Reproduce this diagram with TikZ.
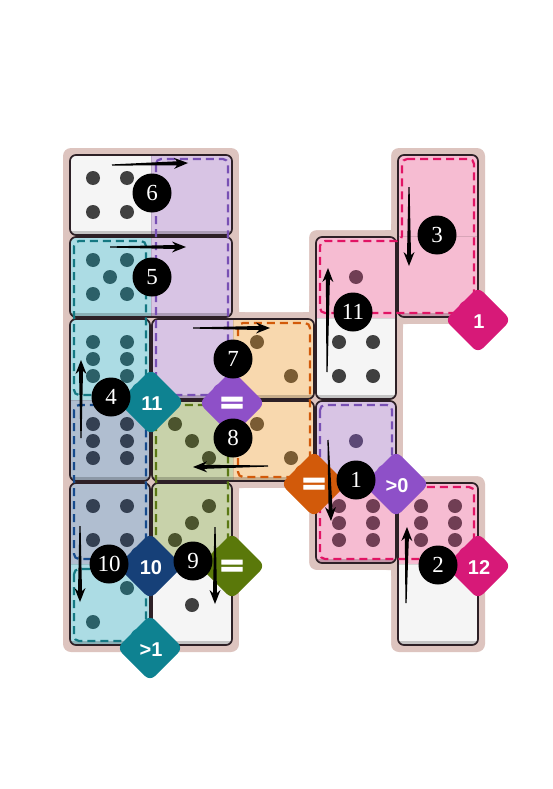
\documentclass[tikz,border=0pt]{standalone}
\usepackage{fontspec}
\setmainfont{Liberation Serif}
\newfontfamily\labfont{Liberation Sans}
\newfontfamily\eqfont[FakeBold=3.5]{DejaVu Sans}
\usetikzlibrary{calc}
\definecolor{boardbg}{RGB}{221,196,191}
\definecolor{domborder}{RGB}{45,32,38}
\definecolor{cwhite}{RGB}{245,245,245}
\definecolor{purfill}{RGB}{216,196,228}
\definecolor{purdash}{RGB}{120,80,180}
\definecolor{purlab}{RGB}{142,80,200}
\definecolor{purpip}{RGB}{92,72,118}
\definecolor{cyafill}{RGB}{172,220,228}
\definecolor{cyadash}{RGB}{20,120,130}
\definecolor{cyalab}{RGB}{14,130,145}
\definecolor{cyapip}{RGB}{44,96,104}
\definecolor{blufill}{RGB}{176,190,208}
\definecolor{bludash}{RGB}{22,74,140}
\definecolor{blulab}{RGB}{22,64,120}
\definecolor{blupip}{RGB}{52,64,82}
\definecolor{grefill}{RGB}{200,210,170}
\definecolor{gredash}{RGB}{90,120,20}
\definecolor{grelab}{RGB}{90,120,10}
\definecolor{grepip}{RGB}{76,84,46}
\definecolor{orafill}{RGB}{248,216,174}
\definecolor{oradash}{RGB}{210,90,10}
\definecolor{oralab}{RGB}{210,90,10}
\definecolor{orapip}{RGB}{122,92,52}
\definecolor{pinfill}{RGB}{246,188,210}
\definecolor{pindash}{RGB}{225,20,100}
\definecolor{pinlab}{RGB}{215,25,120}
\definecolor{pinpip}{RGB}{112,62,84}
\definecolor{whipip}{RGB}{64,64,64}

% domino: c1 r1 c2 r2 colA colB orient(0=v,1=h)
\newcommand\domino[7]{%
 \pgfmathsetmacro\xa{70+82*#1}\pgfmathsetmacro\ya{155+82*#2}%
 \pgfmathsetmacro\xb{150+82*#3}\pgfmathsetmacro\yb{235+82*#4}%
 \pgfmathsetmacro\xm{151+82*#1}\pgfmathsetmacro\ym{236+82*#2}%
 \pgfmathsetmacro\xn{69+82*#3}\pgfmathsetmacro\yn{154+82*#4}%
 \begin{scope}
  \clip[rounded corners=6pt] (\xa,\ya) rectangle (\xb,\yb);
  \fill[#5] (\xa,\ya) rectangle (\xm,\ym);
  \fill[#6] (\xn,\yn) rectangle (\xb,\yb);
  \fill[black,opacity=.2] (\xa,{\yb-4}) rectangle (\xb,\yb);
  \ifnum#7=1 \draw[seam] (\xm,\ya) -- (\xm,\yb);\else\draw[seam] (\xa,\ym) -- (\xb,\ym);\fi
 \end{scope}
 \draw[domborder,line width=1.7pt,rounded corners=6pt] (\xa,\ya) rectangle (\xb,\yb);
}
\newcommand\pipat[2]{\fill[fill=\pipcol] ({\cx+(#1)},{\cy+(#2)}) circle[radius=7pt];}
% pips: c r n orient colour
\newcommand\pips[5]{%
 \pgfmathsetmacro\cx{110+82*#1}\pgfmathsetmacro\cy{195+82*#2}\def\pipcol{#5}%
 \ifcase#3\relax
 \or \pipat{0}{0}%
 \or \ifnum#4=0 \pipat{17}{-17}\pipat{-17}{17}\else\pipat{-17}{-17}\pipat{17}{17}\fi
 \or \ifnum#4=0 \pipat{17}{-17}\pipat{0}{0}\pipat{-17}{17}\else\pipat{-17}{-17}\pipat{0}{0}\pipat{17}{17}\fi
 \or \pipat{-17}{-17}\pipat{17}{-17}\pipat{-17}{17}\pipat{17}{17}%
 \or \pipat{-17}{-17}\pipat{17}{-17}\pipat{0}{0}\pipat{-17}{17}\pipat{17}{17}%
 \or \pipat{-17}{-17}\pipat{17}{-17}\pipat{-17}{0}\pipat{17}{0}\pipat{-17}{17}\pipat{17}{17}%
 \fi}
% constraint diamond shape: cx cy colour
\newcommand\cdiamond[3]{%
 \fill[#3] ({#1-12},{#2-12}) circle[radius=7pt];
 \fill[#3,rounded corners=7pt] (#1,{#2-33}) -- ({#1+33},#2) -- (#1,{#2+33}) -- ({#1-33},#2) -- cycle;}
% move arrow from tail coordinate to tip coordinate
\newcommand\mvarrow[2]{%
 \fill[black] ($(#1)!0.6pt!90:(#2)$) -- ($(#2)!11pt!(#1)!2pt!90:(#2)$) -- ($(#2)!14pt!(#1)!5.5pt!90:(#2)$) -- (#2)
  -- ($(#2)!14pt!(#1)!5.5pt!-90:(#2)$) -- ($(#2)!11pt!(#1)!2pt!-90:(#2)$) -- ($(#1)!0.6pt!-90:(#2)$) -- cycle;}

\begin{document}
\begin{tikzpicture}[x=1pt,y=-1pt,
 seam/.style={black,opacity=.12,line width=.8pt},
 region/.style={dash pattern=on 8pt off 5pt,line width=2.2pt,rounded corners=5pt},
 badge/.style={circle,fill=black,minimum size=39pt,inner sep=0pt,text=white,font=\fontsize{23}{23}\selectfont},
 lab/.style={text=white,inner sep=0pt,font=\labfont\bfseries\fontsize{20}{20}\selectfont},
 eqlab/.style={text=white,inner sep=0pt,font=\eqfont\bfseries\fontsize{32}{32}\selectfont}]
\useasboundingbox (0,0) rectangle (552,789);
\fill[white] (0,0) rectangle (552,789);
% board background
\fill[boardbg,rounded corners=8pt] (63,148) rectangle (239,652);
\fill[boardbg,rounded corners=8pt] (227,312) rectangle (321,488);
\fill[boardbg,rounded corners=8pt] (309,230) rectangle (403,570);
\fill[boardbg,rounded corners=8pt] (391,148) rectangle (485,324);
\fill[boardbg,rounded corners=8pt] (391,476) rectangle (485,652);
% empty areas
\fill[white,rounded corners=6pt] (239,100) -- (391,100) -- (391,230) -- (309,230) -- (309,312) -- (239,312) -- cycle;
\fill[white,rounded corners=6pt] (403,324) rectangle (600,476);
\fill[white,rounded corners=6pt] (239,488) -- (309,488) -- (309,570) -- (391,570) -- (391,720) -- (239,720) -- cycle;
% dominoes
\domino{3}{3}{3}{4}{purfill}{pinfill}{0}
\domino{4}{4}{4}{5}{pinfill}{cwhite}{0}
\domino{4}{0}{4}{1}{pinfill}{pinfill}{0}
\domino{0}{2}{0}{3}{cyafill}{blufill}{0}
\domino{0}{1}{1}{1}{cyafill}{purfill}{1}
\domino{0}{0}{1}{0}{cwhite}{purfill}{1}
\domino{1}{2}{2}{2}{purfill}{orafill}{1}
\domino{1}{3}{2}{3}{grefill}{orafill}{1}
\domino{1}{4}{1}{5}{grefill}{cwhite}{0}
\domino{0}{4}{0}{5}{blufill}{cyafill}{0}
\domino{3}{1}{3}{2}{pinfill}{cwhite}{0}
% regions
\draw[region,purdash] (156,159) rectangle (228,395);
\draw[region,cyadash] (74,241) rectangle (146,395);
\draw[region,bludash] (74,405) rectangle (146,559);
\draw[region,cyadash] (74,569) rectangle (146,641);
\draw[region,gredash] (156,405) rectangle (228,559);
\draw[region,oradash] (238,323) rectangle (310,477);
\draw[region,pindash] (402,159) -- (474,159) -- (474,313) -- (320,313) -- (320,241) -- (402,241) -- cycle;
\draw[region,pindash] (320,487) rectangle (474,559);
\draw[region,purdash] (320,405) rectangle (392,477);
% pips
\pips{3}{3}{1}{0}{purpip}
\pips{3}{4}{6}{0}{pinpip}
\pips{4}{4}{6}{0}{pinpip}
\pips{0}{2}{6}{0}{cyapip}
\pips{0}{3}{6}{0}{blupip}
\pips{0}{1}{5}{1}{cyapip}
\pips{0}{0}{4}{1}{whipip}
\pips{2}{2}{2}{1}{orapip}
\pips{1}{3}{3}{1}{grepip}
\pips{2}{3}{2}{1}{orapip}
\pips{1}{4}{3}{0}{grepip}
\pips{1}{5}{1}{0}{whipip}
\pips{0}{4}{4}{0}{blupip}
\pips{0}{5}{2}{0}{cyapip}
\pips{3}{1}{1}{0}{pinpip}
\pips{3}{2}{4}{0}{whipip}
% constraints
\cdiamond{232}{403}{purlab}
\cdiamond{151}{402}{cyalab}
\cdiamond{150}{566}{blulab}
\cdiamond{150}{648}{cyalab}
\cdiamond{232}{566}{grelab}
\cdiamond{314}{484}{oralab}
\cdiamond{396}{484}{purlab}
\cdiamond{478}{320}{pinlab}
\cdiamond{478}{566}{pinlab}
\node[eqlab] (kpur) at (232,405) {=};
\node[lab] (kcya) at (152,404) {11};
\node[lab] (kblu) at (151,568) {10};
\node[lab] (kcyb) at (151,650) {>1};
\node[eqlab] (kgre) at (232,568) {=};
\node[eqlab] (kora) at (314,486) {=};
\node[lab] (kpub) at (397,486) {>0};
\node[lab] (kpin) at (479,322) {1};
\node[lab] (kpib) at (479,568) {12};
% arrows
\coordinate (t6) at (112,165); \coordinate (h6) at (188,163);
\coordinate (t5) at (110,247); \coordinate (h5) at (186,247);
\coordinate (t7) at (193,328); \coordinate (h7) at (270,328);
\coordinate (t4) at (81,438);  \coordinate (h4) at (81,360);
\coordinate (t8) at (268,466); \coordinate (h8) at (193,467);
\coordinate (t11) at (327,372); \coordinate (h11) at (328,268);
\coordinate (t3) at (409,187); \coordinate (h3) at (409,266);
\coordinate (t1) at (328,440); \coordinate (h1) at (331,521);
\coordinate (t2) at (406,603); \coordinate (h2) at (407,527);
\coordinate (t10) at (80,526); \coordinate (h10) at (80,602);
\coordinate (t9) at (215,527); \coordinate (h9) at (215,604);
\mvarrow{t6}{h6}\mvarrow{t5}{h5}\mvarrow{t7}{h7}\mvarrow{t4}{h4}
\mvarrow{t8}{h8}\mvarrow{t11}{h11}\mvarrow{t3}{h3}\mvarrow{t1}{h1}
\mvarrow{t2}{h2}\mvarrow{t10}{h10}\mvarrow{t9}{h9}
% badges
\node[badge] (b6) at (152,193) {6};
\node[badge] (b5) at (152,277) {5};
\node[badge] (b7) at (233,359) {7};
\node[badge] (b4) at (111,397) {4};
\node[badge] (b8) at (233,438) {8};
\node[badge] (b10) at (109,564) {10};
\node[badge] (b9) at (193,561) {9};
\node[badge] (b1) at (356,480) {1};
\node[badge] (b2) at (438,565) {2};
\node[badge] (b3) at (437,235) {3};
\node[badge] (b11) at (353,312) {11};
\end{tikzpicture}
\end{document}
